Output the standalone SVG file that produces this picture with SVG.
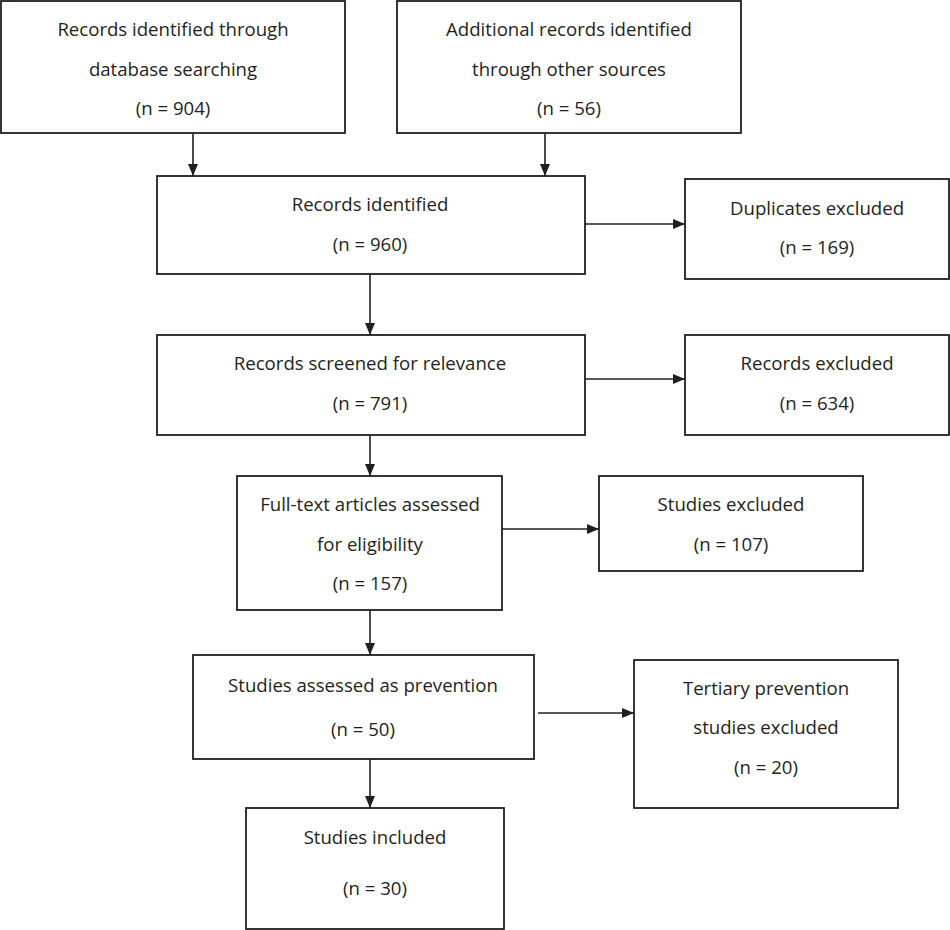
<svg xmlns="http://www.w3.org/2000/svg" width="950" height="930" viewBox="0 0 950 930">
<style>
.box{fill:#fff;stroke:#231f20;stroke-width:1.8}
.t{font-family:"Open Sans","Liberation Sans",sans-serif;font-size:18.6px;fill:#231f20;text-anchor:middle}
.c{stroke:#231f20;stroke-width:1.6;fill:none}
</style>
<defs>
<marker id="ah" viewBox="0 0 12 10" refX="12" refY="5" markerWidth="12" markerHeight="10" markerUnits="userSpaceOnUse" orient="auto">
<path d="M0,0 L12,5 L0,10 z" fill="#231f20"/>
</marker>
</defs>
<rect width="950" height="930" fill="#fff"/>
<g id="connectors">
<line class="c" x1="193" y1="134" x2="193" y2="176" marker-end="url(#ah)"/>
<line class="c" x1="545" y1="134" x2="545" y2="176" marker-end="url(#ah)"/>
<line class="c" x1="585" y1="224" x2="685" y2="224" marker-end="url(#ah)"/>
<line class="c" x1="370" y1="274" x2="370" y2="335" marker-end="url(#ah)"/>
<line class="c" x1="585" y1="379" x2="685" y2="379" marker-end="url(#ah)"/>
<line class="c" x1="370" y1="435" x2="370" y2="476" marker-end="url(#ah)"/>
<line class="c" x1="502" y1="529" x2="599" y2="529" marker-end="url(#ah)"/>
<line class="c" x1="370" y1="610" x2="370" y2="655" marker-end="url(#ah)"/>
<line class="c" x1="538" y1="713" x2="634" y2="713" marker-end="url(#ah)"/>
<line class="c" x1="370" y1="759" x2="370" y2="808" marker-end="url(#ah)"/>
</g>
<g id="n1"><rect class="box" x="1" y="1" width="344" height="132"/>
<text class="t" x="173" y="36">Records identified through</text>
<text class="t" x="173" y="76">database searching</text>
<text class="t" x="173" y="115">(n = 904)</text></g>
<g id="n2"><rect class="box" x="397" y="1" width="344" height="132"/>
<text class="t" x="569" y="36">Additional records identified</text>
<text class="t" x="569" y="76">through other sources</text>
<text class="t" x="569" y="115">(n = 56)</text></g>
<g id="n3"><rect class="box" x="157" y="176" width="428" height="98"/>
<text class="t" x="370" y="211">Records identified</text>
<text class="t" x="370" y="251">(n = 960)</text></g>
<g id="n4"><rect class="box" x="685" y="179" width="264" height="100"/>
<text class="t" x="817" y="215">Duplicates excluded</text>
<text class="t" x="817" y="254">(n = 169)</text></g>
<g id="n5"><rect class="box" x="157" y="335" width="428" height="100"/>
<text class="t" x="370" y="370">Records screened for relevance</text>
<text class="t" x="370" y="410">(n = 791)</text></g>
<g id="n6"><rect class="box" x="685" y="335" width="264" height="100"/>
<text class="t" x="817" y="370">Records excluded</text>
<text class="t" x="817" y="410">(n = 634)</text></g>
<g id="n7"><rect class="box" x="237" y="476" width="265" height="134"/>
<text class="t" x="370" y="511">Full-text articles assessed</text>
<text class="t" x="370" y="551">for eligibility</text>
<text class="t" x="370" y="590">(n = 157)</text></g>
<g id="n8"><rect class="box" x="599" y="476" width="264" height="95"/>
<text class="t" x="731" y="511">Studies excluded</text>
<text class="t" x="731" y="551">(n = 107)</text></g>
<g id="n9"><rect class="box" x="193" y="655" width="341" height="104"/>
<text class="t" x="363" y="692">Studies assessed as prevention</text>
<text class="t" x="363" y="736">(n = 50)</text></g>
<g id="n10"><rect class="box" x="634" y="660" width="264" height="148"/>
<text class="t" x="766" y="695">Tertiary prevention</text>
<text class="t" x="766" y="734">studies excluded</text>
<text class="t" x="766" y="774">(n = 20)</text></g>
<g id="n11"><rect class="box" x="246" y="808" width="258" height="121"/>
<text class="t" x="375" y="844">Studies included</text>
<text class="t" x="375" y="895">(n = 30)</text></g>
</svg>
